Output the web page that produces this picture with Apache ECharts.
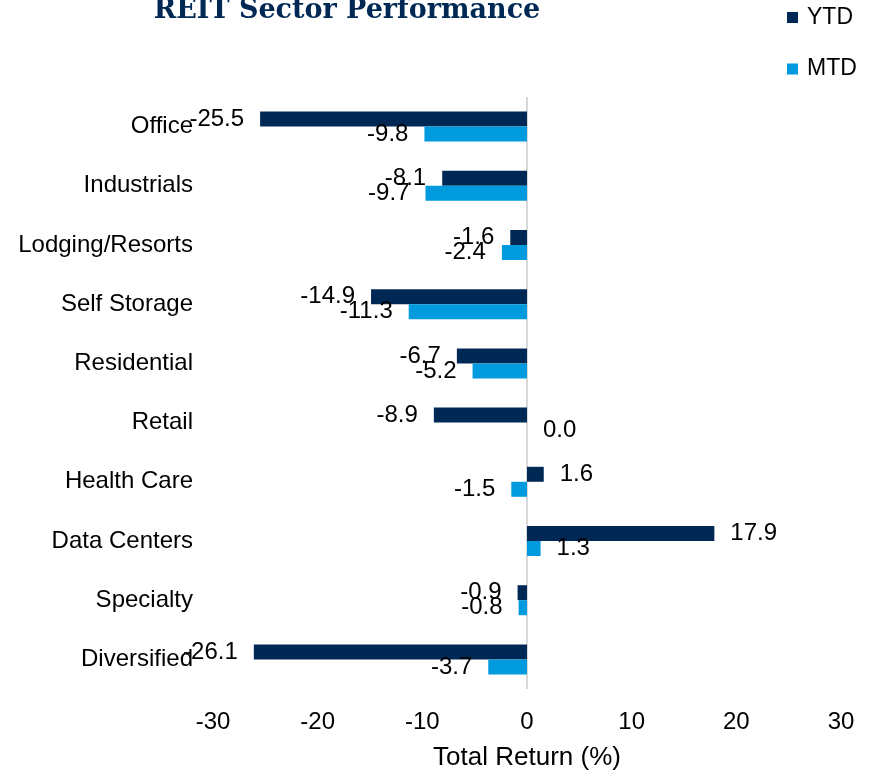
<!DOCTYPE html>
<html>
<head>
<meta charset="utf-8">
<script src="https://cdn.jsdelivr.net/npm/echarts@6/dist/echarts.min.js"></script>
<style>
  html, body { margin: 0; padding: 0; background: #fff; }
  #chart { width: 875px; height: 776px; }
</style>
</head>
<body>
<div id="chart"></div>
<script>
// Sectors, top to bottom
const sectors = ['Office', 'Industrials', 'Lodging/Resorts', 'Self Storage', 'Residential',
  'Retail', 'Health Care', 'Data Centers', 'Specialty', 'Diversified'];
// Year-to-date total return (%)
const ytd = [-25.5, -8.1, -1.6, -14.9, -6.7, -8.9, 1.6, 17.9, -0.9, -26.1];
// Month-to-date total return (%)
const mtd = [-9.8, -9.7, -2.4, -11.3, -5.2, 0.0, -1.5, 1.3, -0.8, -3.7];
// Value axis range and step
const axisMin = -30, axisMax = 30, axisStep = 10;

const NAVY = '#002855';
const BLUE = '#009ADE';
const FONT = 'Liberation Sans, Arial, sans-serif';

// Labels sit outside the bar end: left of negative bars, right of positive ones
function withLabels(values) {
  return values.map(v => ({
    value: v,
    label: { position: v < 0 ? 'left' : 'right' }
  }));
}

const barLabel = {
  show: true,
  distance: 16,
  fontFamily: FONT,
  fontSize: 24,
  color: '#000',
  formatter: p => p.value.toFixed(1)
};

const chart = echarts.init(document.getElementById('chart'), null, { renderer: 'canvas' });
chart.setOption({
  animation: false,
  backgroundColor: '#fff',
  title: {
    text: 'REIT Sector Performance',
    left: 342,
    textAlign: 'center',
    top: -8,
    textStyle: {
      fontFamily: 'DejaVu Serif, serif',
      fontWeight: 'bold',
      fontSize: 27,
      color: NAVY
    }
  },
  legend: {
    orient: 'vertical',
    left: 782,
    top: 1,
    itemWidth: 11,
    itemHeight: 11,
    itemGap: 28.5,
    icon: 'rect',
    textStyle: { fontFamily: FONT, fontSize: 23, color: '#000', padding: [0, 0, 0, 4] },
    data: ['YTD', 'MTD']
  },
  grid: { left: 213, right: 34, top: 97, bottom: 83, containLabel: false },
  xAxis: {
    type: 'value',
    min: axisMin,
    max: axisMax,
    interval: axisStep,
    name: 'Total Return (%)',
    nameLocation: 'middle',
    nameGap: 56,
    nameTextStyle: { fontFamily: FONT, fontSize: 26, color: '#000' },
    axisLine: { show: false },
    axisTick: { show: false },
    splitLine: { show: false },
    axisLabel: { fontFamily: FONT, fontSize: 24, color: '#000', margin: 21 }
  },
  yAxis: {
    type: 'category',
    inverse: true,
    data: sectors,
    axisLine: { show: false },
    axisTick: { show: false },
    splitLine: { show: false },
    axisLabel: { fontFamily: FONT, fontSize: 24, color: '#000', margin: 20 }
  },
  series: [
    {
      name: 'YTD',
      type: 'bar',
      barWidth: 15,
      barGap: '0%',
      itemStyle: { color: NAVY },
      label: barLabel,
      data: withLabels(ytd),
      z: 3,
      markLine: {
        silent: true,
        symbol: 'none',
        label: { show: false },
        lineStyle: { color: '#d9d9d9', width: 2, type: 'solid' },
        data: [{ xAxis: 0 }],
        z: 1
      }
    },
    {
      name: 'MTD',
      type: 'bar',
      barWidth: 15,
      itemStyle: { color: BLUE },
      label: barLabel,
      data: withLabels(mtd),
      z: 3
    }
  ]
});
</script>
</body>
</html>
